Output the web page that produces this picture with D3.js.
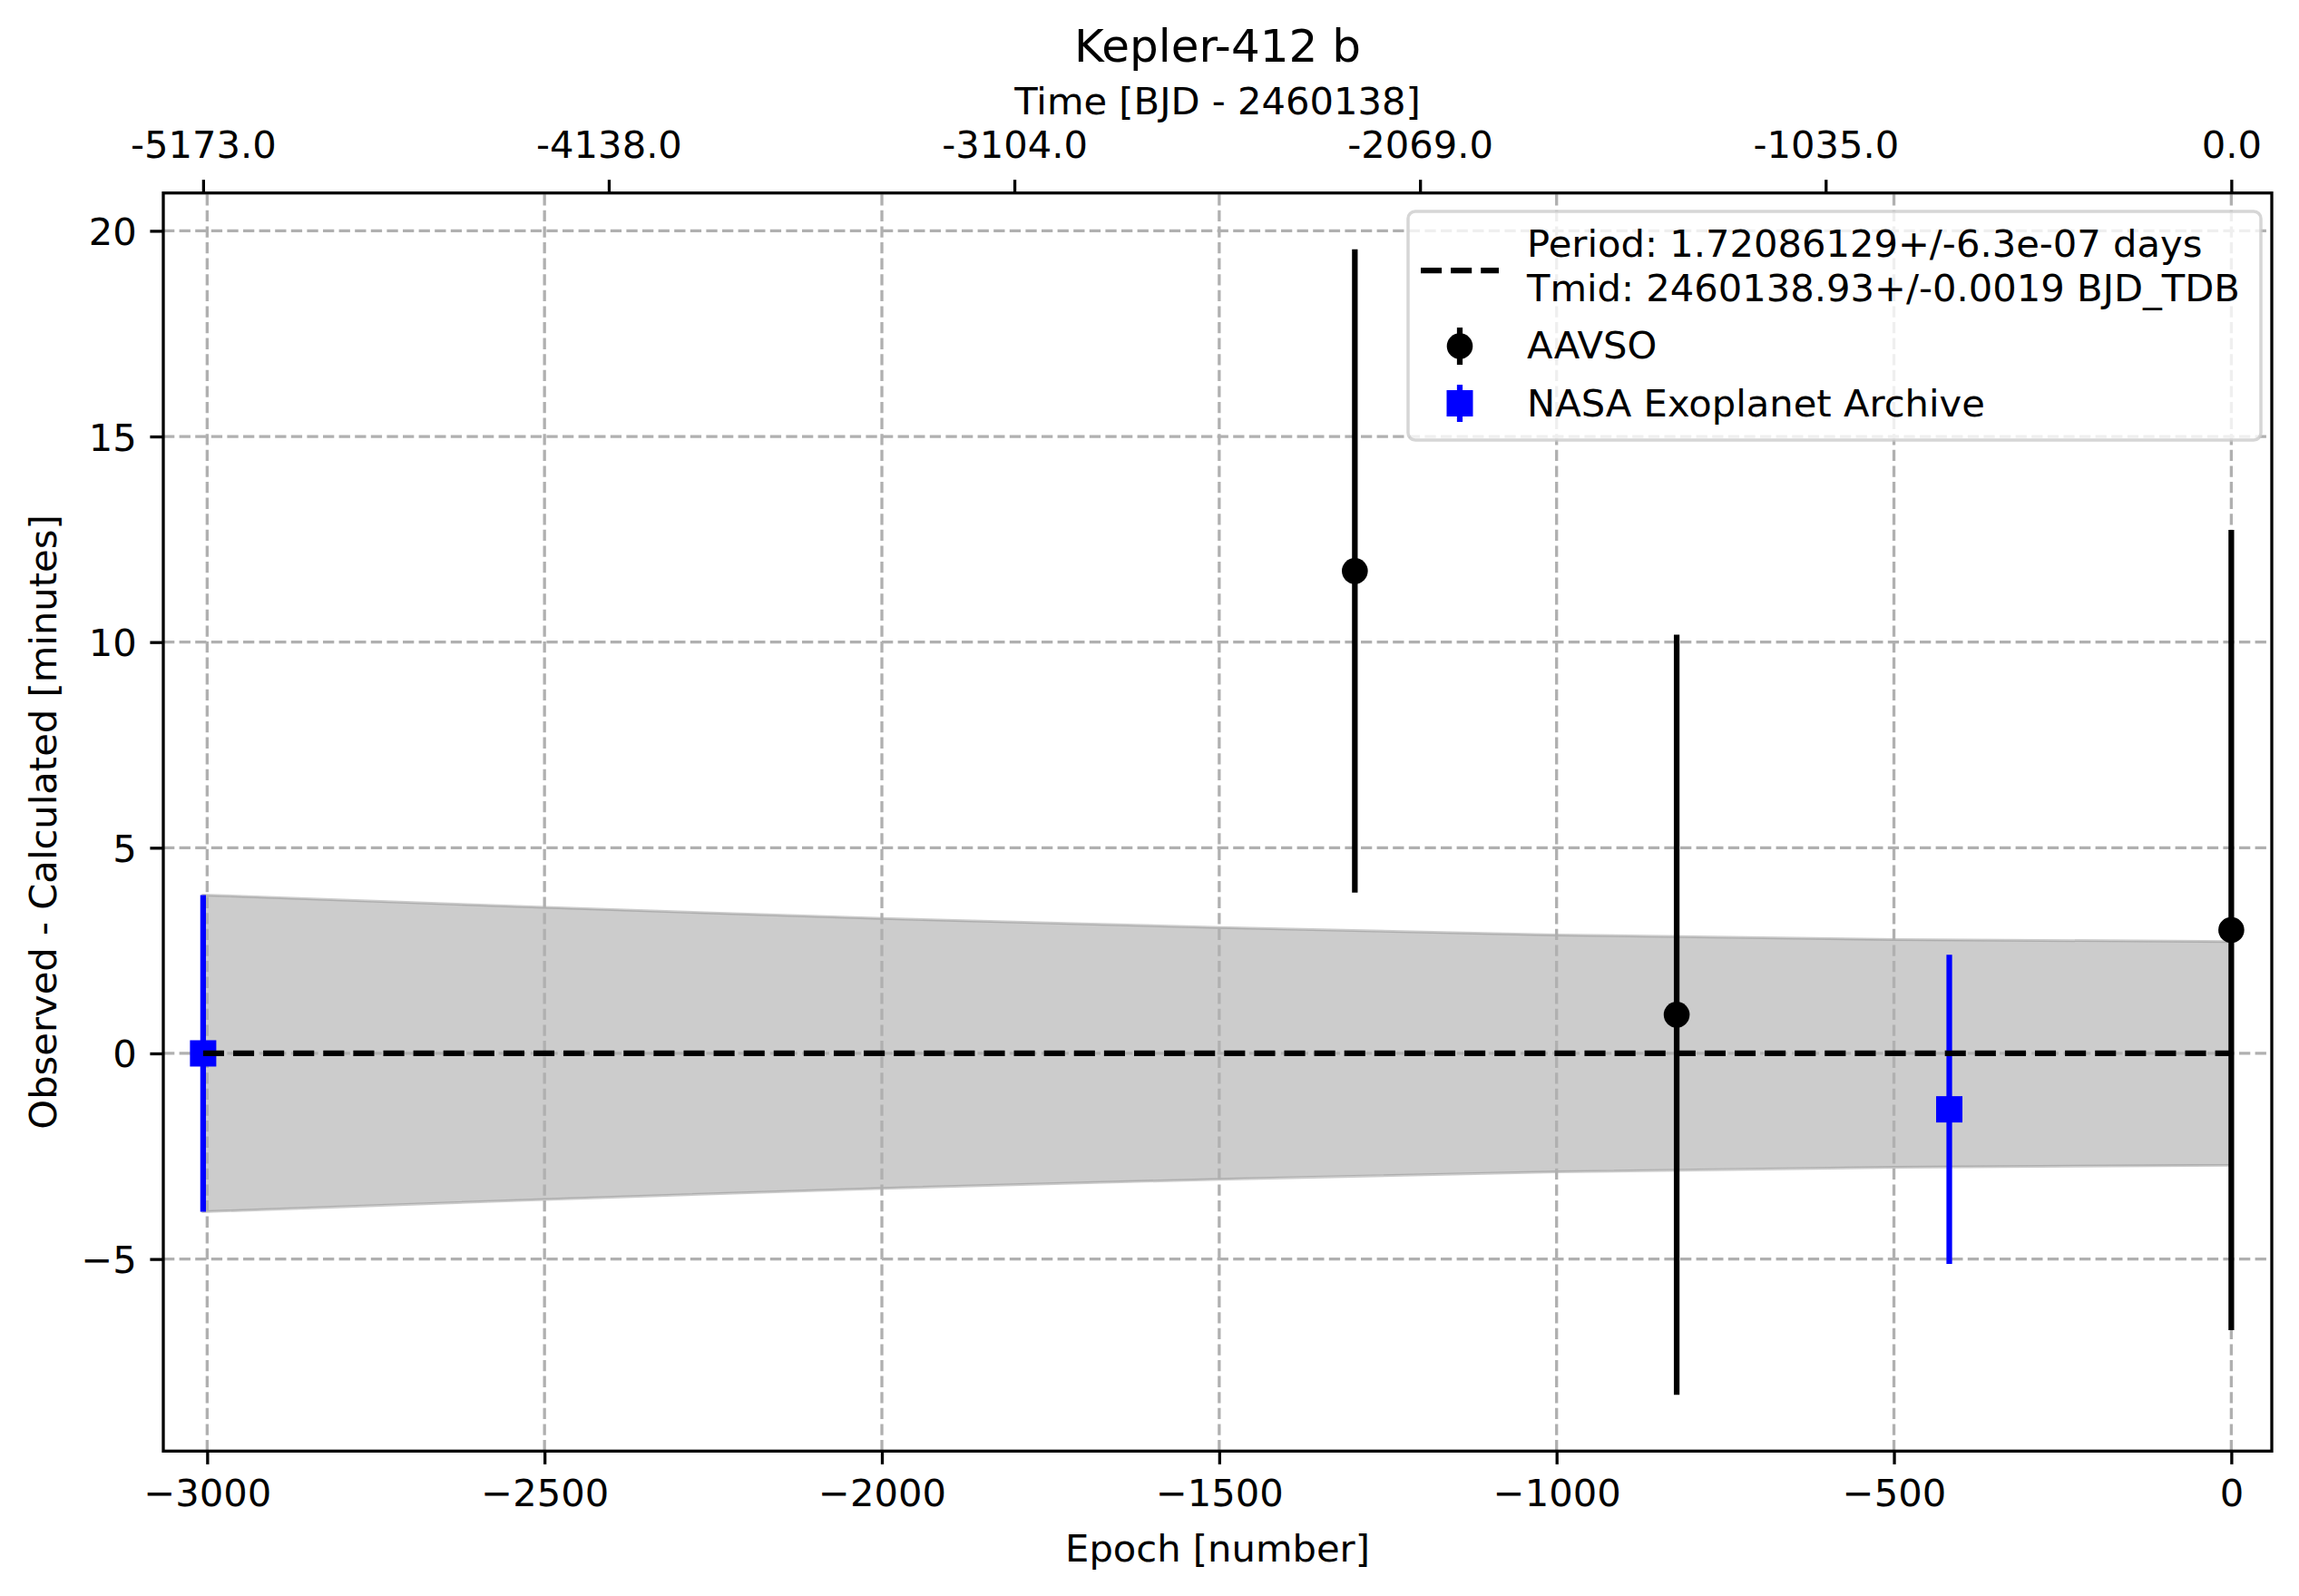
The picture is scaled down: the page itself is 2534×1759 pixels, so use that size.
<!DOCTYPE html>
<html lang="en">
<head>
<meta charset="UTF-8">
<title>Kepler-412 b O-C</title>
<script src="https://d3js.org/d3.v7.min.js"></script>
<style>
  body { margin: 0; background: #fff; }
  svg text { font-family: "DejaVu Sans", sans-serif; fill: #000; }
</style>
</head>
<body>
<div id="chart"></div>
<script>
// ---- data ----
const aavsoEpoch = [-1299, -822, 0];
const aavsoOC    = [11.73, 0.94, 3.0];
const aavsoErr   = [7.82, 9.24, 9.73];

const nasaEpoch = [-3006, -418];
const nasaOC    = [0.0, -1.36];
const nasaErr   = [3.85, 3.76];

// fitted ephemeris line (O-C = 0) and its 1-sigma band
const fitEpoch  = [-3006, 0];
const fitOC     = [0, 0];
const bandEpoch = [-3006, -2500, -2000, -1500, -1000, -500, 0];
const bandUpper = [3.85, 3.55, 3.28, 3.06, 2.88, 2.77, 2.72];
const bandLower = [-3.85, -3.55, -3.28, -3.06, -2.88, -2.77, -2.72];

const xTicks = [-3000, -2500, -2000, -1500, -1000, -500, 0];
const yTicks = [-5, 0, 5, 10, 15, 20];
const topTickEpoch = [-3006, -2404.8, -1803.6, -1202.4, -601.2, 0];
const topTickLabel = ["-5173.0", "-4138.0", "-3104.0", "-2069.0", "-1035.0", "0.0"];

const legendLabels = [
  ["Period: 1.72086129+/-6.3e-07 days", "Tmid: 2460138.93+/-0.0019 BJD_TDB"],
  ["AAVSO"],
  ["NASA Exoplanet Archive"]
];

// ---- layout ----
const W = 2534, H = 1759;
const plot = { left: 180, right: 2504, top: 212.7, bottom: 1599.3 };
const fs = 41.67;      // 10pt at 300 dpi
const tick = 14.6;
const lw = 3.3;

const x = d3.scaleLinear().domain([-3065, 60]).range([plot.left, plot.right]);
const y = d3.scaleLinear().domain([-9.67, 20.92]).range([plot.bottom, plot.top]);

const svg = d3.select("#chart").append("svg")
  .attr("width", W).attr("height", H);

// band
const band = bandEpoch.map((e, i) => ({ e, hi: bandUpper[i], lo: bandLower[i] }));
svg.append("path")
  .datum(band)
  .attr("d", d3.area().x(d => x(d.e)).y0(d => y(d.lo)).y1(d => y(d.hi)).curve(d3.curveMonotoneX))
  .attr("fill", "rgba(128,128,128,0.4)")
  .attr("stroke", "rgba(128,128,128,0.4)")
  .attr("stroke-width", 3);

// grid
const grid = svg.append("g")
  .attr("stroke", "#b0b0b0")
  .attr("stroke-width", lw)
  .attr("stroke-dasharray", "12.3,5.3");
grid.selectAll("line.gx").data(xTicks).join("line")
  .attr("x1", d => x(d)).attr("x2", d => x(d))
  .attr("y1", plot.bottom).attr("y2", plot.top);
grid.selectAll("line.gy").data(yTicks).join("line")
  .attr("x1", plot.left).attr("x2", plot.right)
  .attr("y1", d => y(d)).attr("y2", d => y(d));

// error bars
function drawSeries(epochs, vals, errs, color, shape) {
  const g = svg.append("g");
  const pts = epochs.map((e, i) => ({ e, v: vals[i], s: errs[i] }));
  g.selectAll("line").data(pts).join("line")
    .attr("x1", d => x(d.e)).attr("x2", d => x(d.e))
    .attr("y1", d => y(d.v - d.s)).attr("y2", d => y(d.v + d.s))
    .attr("stroke", color).attr("stroke-width", 6.25);
  if (shape === "circle") {
    g.selectAll("circle").data(pts).join("circle")
      .attr("cx", d => x(d.e)).attr("cy", d => y(d.v)).attr("r", 14.3)
      .attr("fill", color);
  } else {
    g.selectAll("rect").data(pts).join("rect")
      .attr("x", d => x(d.e) - 14.5).attr("y", d => y(d.v) - 14.5)
      .attr("width", 29).attr("height", 29)
      .attr("fill", color);
  }
}
drawSeries(nasaEpoch, nasaOC, nasaErr, "#0000ff", "square");
drawSeries(aavsoEpoch, aavsoOC, aavsoErr, "#000000", "circle");

// fit line
svg.append("path")
  .datum(fitEpoch.map((e, i) => [e, fitOC[i]]))
  .attr("d", d3.line().x(d => x(d[0])).y(d => y(d[1])))
  .attr("fill", "none")
  .attr("stroke", "#000")
  .attr("stroke-width", 6.25)
  .attr("stroke-dasharray", "23.1,10");

// axes
function styleAxis(g) {
  g.select(".domain").remove();
  g.selectAll(".tick line").attr("stroke", "#000").attr("stroke-width", lw);
  g.selectAll(".tick text").attr("font-size", fs).attr("font-family", "DejaVu Sans");
}

svg.append("g")
  .attr("transform", `translate(0,${plot.bottom})`)
  .call(d3.axisBottom(x).tickValues(xTicks).tickFormat(d3.format("d"))
    .tickSize(tick).tickPadding(17))
  .call(styleAxis);

svg.append("g")
  .attr("transform", `translate(${plot.left},0)`)
  .call(d3.axisLeft(y).tickValues(yTicks).tickFormat(d3.format("d"))
    .tickSize(tick).tickPadding(14.6))
  .call(styleAxis)
  .selectAll(".tick text").attr("dy", "0.36em");

svg.append("g")
  .attr("transform", `translate(0,${plot.top})`)
  .call(d3.axisTop(x).tickValues(topTickEpoch)
    .tickFormat((d, i) => topTickLabel[i]).tickSize(tick).tickPadding(24.1))
  .call(styleAxis);

// spines
svg.append("rect")
  .attr("x", plot.left).attr("y", plot.top)
  .attr("width", plot.right - plot.left).attr("height", plot.bottom - plot.top)
  .attr("fill", "none").attr("stroke", "#000").attr("stroke-width", lw);

// labels
const cx = (plot.left + plot.right) / 2;
svg.append("text").attr("x", cx).attr("y", 68).attr("text-anchor", "middle")
  .attr("font-size", 50).text("Kepler-412 b");
svg.append("text").attr("x", cx).attr("y", 126).attr("text-anchor", "middle")
  .attr("font-size", fs).text("Time [BJD - 2460138]");
svg.append("text").attr("x", cx).attr("y", 1721).attr("text-anchor", "middle")
  .attr("font-size", fs).text("Epoch [number]");
svg.append("text")
  .attr("transform", `translate(62,${(plot.top + plot.bottom) / 2}) rotate(-90)`)
  .attr("text-anchor", "middle")
  .attr("font-size", fs).text("Observed - Calculated [minutes]");

// legend
const leg = svg.append("g");
leg.append("rect")
  .attr("x", 1552).attr("y", 233).attr("width", 940).attr("height", 252)
  .attr("rx", 8).attr("ry", 8)
  .attr("fill", "rgba(255,255,255,0.8)")
  .attr("stroke", "rgba(204,204,204,0.8)").attr("stroke-width", 3.5);

const hx = 1566, hw = 86, tx = 1683;
// entry 1: dashed line
leg.append("line")
  .attr("x1", hx).attr("x2", hx + hw).attr("y1", 298).attr("y2", 298)
  .attr("stroke", "#000").attr("stroke-width", 6.25).attr("stroke-dasharray", "23.1,10");
leg.append("text").attr("x", tx).attr("y", 283).attr("font-size", fs).text(legendLabels[0][0]);
leg.append("text").attr("x", tx).attr("y", 332).attr("font-size", fs).text(legendLabels[0][1]);

// entry 2: AAVSO
const mx = hx + hw / 2;
leg.append("line").attr("x1", mx).attr("x2", mx).attr("y1", 361).attr("y2", 402)
  .attr("stroke", "#000").attr("stroke-width", 6.25);
leg.append("circle").attr("cx", mx).attr("cy", 381.5).attr("r", 14.3).attr("fill", "#000");
leg.append("text").attr("x", tx).attr("y", 395).attr("font-size", fs).text(legendLabels[1][0]);

// entry 3: NASA
leg.append("line").attr("x1", mx).attr("x2", mx).attr("y1", 424).attr("y2", 465)
  .attr("stroke", "#0000ff").attr("stroke-width", 6.25);
leg.append("rect").attr("x", mx - 14.5).attr("y", 444.5 - 14.5).attr("width", 29).attr("height", 29)
  .attr("fill", "#0000ff");
leg.append("text").attr("x", tx).attr("y", 459).attr("font-size", fs).text(legendLabels[2][0]);
</script>
</body>
</html>
